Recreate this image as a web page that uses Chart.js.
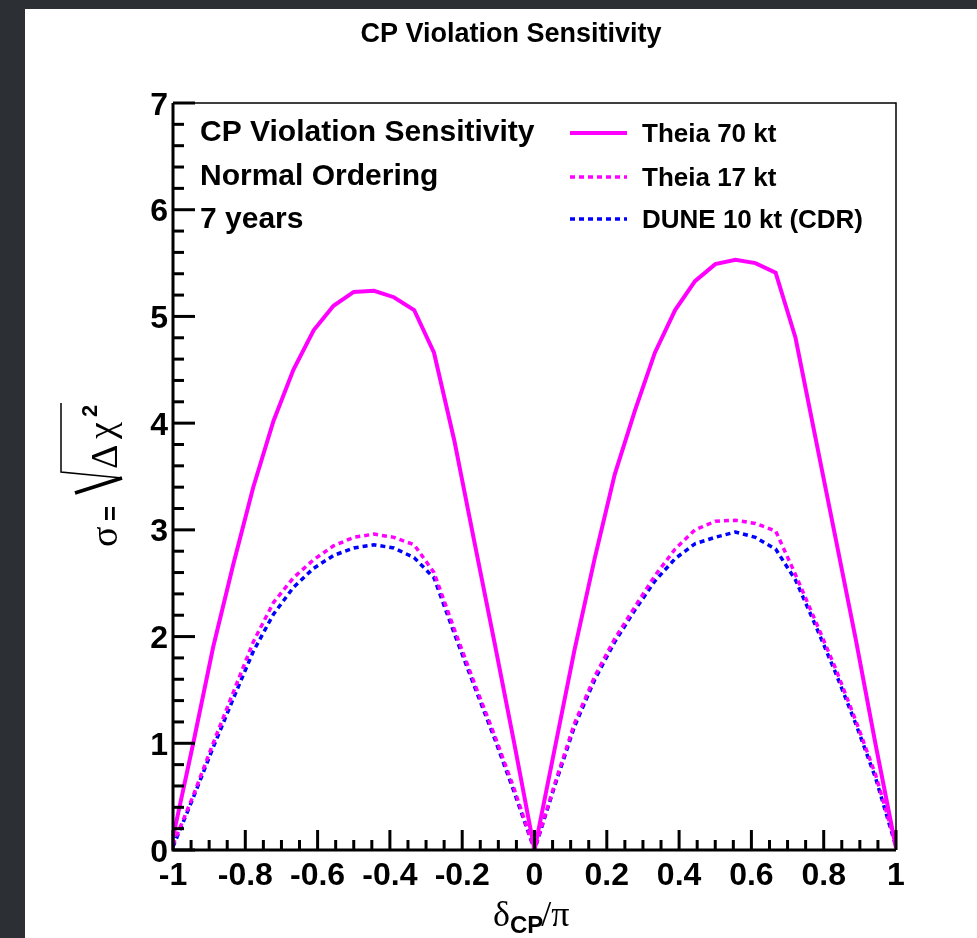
<!DOCTYPE html>
<html>
<head>
<meta charset="utf-8">
<title>CP Violation Sensitivity</title>
<script src="https://cdn.jsdelivr.net/npm/chart.js@4.4.1/dist/chart.umd.min.js"></script>
<style>
  html, body { margin: 0; padding: 0; background: #2c2f33; }
  #wrap { width: 977px; height: 938px; }
</style>
</head>
<body>
<div id="wrap"><canvas id="cpv" width="977" height="938"></canvas></div>
<script>
/* CP violation sensitivity vs delta_CP / pi */

// x values (delta_CP / pi), one point every 10 degrees
const dcpOverPi = [
  -1.000, -0.944, -0.889, -0.833, -0.778, -0.722, -0.667, -0.611, -0.556, -0.500,
  -0.444, -0.389, -0.333, -0.278, -0.222, -0.167, -0.111, -0.056,  0.000,
   0.056,  0.111,  0.167,  0.222,  0.278,  0.333,  0.389,  0.444,  0.500,
   0.556,  0.611,  0.667,  0.722,  0.778,  0.833,  0.889,  0.944,  1.000
];

const theia70 = [
  0.12, 1.00, 1.90, 2.68, 3.40, 4.02, 4.50, 4.87, 5.10, 5.23,
  5.24, 5.18, 5.06, 4.66, 3.84, 2.90, 1.95, 1.00, 0.00,
  0.95, 1.88, 2.74, 3.52, 4.12, 4.66, 5.06, 5.33, 5.49,
  5.53, 5.50, 5.41, 4.80, 3.85, 2.92, 1.97, 0.98, 0.02
];

const theia17 = [
  0.05, 0.51, 1.00, 1.48, 1.95, 2.32, 2.55, 2.72, 2.85, 2.93,
  2.96, 2.93, 2.86, 2.60, 2.07, 1.57, 1.08, 0.57, 0.00,
  0.62, 1.19, 1.63, 1.98, 2.28, 2.57, 2.82, 3.00, 3.08,
  3.09, 3.06, 2.99, 2.58, 2.14, 1.70, 1.21, 0.70, 0.05
];

const dune10 = [
  0.03, 0.49, 0.96, 1.42, 1.86, 2.21, 2.46, 2.64, 2.76, 2.83,
  2.86, 2.83, 2.74, 2.55, 2.03, 1.54, 1.05, 0.54, 0.00,
  0.60, 1.16, 1.60, 1.95, 2.25, 2.52, 2.73, 2.87, 2.93,
  2.98, 2.93, 2.82, 2.53, 2.10, 1.66, 1.18, 0.67, 0.03
];

const xTickLabels = ['-1', '-0.8', '-0.6', '-0.4', '-0.2', '0', '0.2', '0.4', '0.6', '0.8', '1'];
const yTickLabels = ['0', '1', '2', '3', '4', '5', '6', '7'];
const seriesNames = ['Theia 70 kt', 'Theia 17 kt', 'DUNE 10 kt (CDR)'];
const infoLines   = ['CP Violation Sensitivity', 'Normal Ordering', '7 years'];
const plotTitle   = 'CP Violation Sensitivity';

const MAGENTA = '#ff00ff';
const BLUE    = '#0000ff';
const INK     = '#000000';

const sansB = px => `bold ${px}px "Liberation Sans", Arial, Helvetica, sans-serif`;
const serif = px => `${px}px "Liberation Serif", "Times New Roman", serif`;

function pts(ys) {
  return dcpOverPi.map((x, i) => ({ x, y: ys[i] }));
}

// ROOT-like frame: inward ticks, bold labels, in-pad text and legend
const rootStyle = {
  id: 'rootStyle',
  beforeDraw(chart) {
    const { ctx, width, height } = chart;
    ctx.save();
    ctx.fillStyle = '#2c2f33';
    ctx.fillRect(0, 0, width, height);
    ctx.fillStyle = '#ffffff';
    ctx.fillRect(25, 9, width - 25, height - 9);
    ctx.restore();
  },
  afterDraw(chart) {
    const { ctx, chartArea: a, scales: { x, y } } = chart;
    ctx.save();
    ctx.strokeStyle = INK;
    ctx.fillStyle = INK;

    // thin frame on top and right
    ctx.lineWidth = 1.5;
    ctx.beginPath();
    ctx.moveTo(a.left, a.top);
    ctx.lineTo(a.right, a.top);
    ctx.lineTo(a.right, a.bottom);
    ctx.stroke();

    // thick axes
    ctx.lineWidth = 3;
    ctx.beginPath();
    ctx.moveTo(a.left, a.top);
    ctx.lineTo(a.left, a.bottom);
    ctx.lineTo(a.right, a.bottom);
    ctx.stroke();

    // y ticks: major every 1, minor every 0.2
    ctx.lineWidth = 3;
    for (let i = 0; i <= 35; i++) {
      const py = y.getPixelForValue(i * 0.2);
      const len = i % 5 === 0 ? 22 : 11;
      ctx.beginPath();
      ctx.moveTo(a.left, py);
      ctx.lineTo(a.left + len, py);
      ctx.stroke();
    }
    // x ticks: major every 0.2, minor every 0.05
    for (let i = 0; i <= 40; i++) {
      const px = x.getPixelForValue(-1 + i * 0.05);
      const len = i % 4 === 0 ? 20 : 10;
      ctx.beginPath();
      ctx.moveTo(px, a.bottom);
      ctx.lineTo(px, a.bottom - len);
      ctx.stroke();
    }

    // tick labels
    ctx.font = sansB(32);
    ctx.textAlign = 'right';
    ctx.textBaseline = 'alphabetic';
    yTickLabels.forEach(lbl => {
      const py = y.getPixelForValue(parseFloat(lbl));
      ctx.fillText(lbl, a.left - 5, py + 11.5);
    });
    ctx.textAlign = 'center';
    xTickLabels.forEach(lbl => {
      const px = x.getPixelForValue(parseFloat(lbl));
      ctx.fillText(lbl, px, a.bottom + 35);
    });

    // x axis title: delta_CP / pi
    ctx.textAlign = 'left';
    let cx = 493;
    ctx.font = serif(36);
    ctx.fillText('δ', cx, 926);
    cx += ctx.measureText('δ').width;
    ctx.font = sansB(24);
    ctx.fillText('CP', cx, 933);
    cx += ctx.measureText('CP').width - 2;
    ctx.font = serif(36);
    ctx.fillText('/π', cx, 926);

    // y axis title: sigma = sqrt(Delta chi^2), rotated
    ctx.save();
    ctx.translate(117, 477);
    ctx.rotate(-Math.PI / 2);
    ctx.font = serif(38);
    ctx.fillText('σ', -70, 0);
    ctx.font = sansB(26);
    ctx.fillText('=', -44, 2);
    ctx.lineWidth = 3.5;
    ctx.beginPath();
    ctx.moveTo(-16, -42);
    ctx.lineTo(-1, 5);
    ctx.stroke();
    ctx.lineWidth = 1.5;
    ctx.beginPath();
    ctx.moveTo(-1, 5);
    ctx.lineTo(5, -56);
    ctx.lineTo(74, -56);
    ctx.stroke();
    ctx.font = serif(38);
    ctx.fillText('Δ', 8, 0);
    ctx.fillText('χ', 38, -3);
    ctx.font = sansB(22);
    ctx.fillText('2', 60, -20);
    ctx.restore();

    // pad title
    ctx.textAlign = 'center';
    ctx.font = sansB(27);
    ctx.fillText(plotTitle, 511, 42);

    // info text inside the frame
    ctx.textAlign = 'left';
    ctx.font = sansB(30);
    infoLines.forEach((t, i) => ctx.fillText(t, 200, 141 + i * 43.5));

    // legend
    const rows = [133, 177, 219];
    chart.data.datasets.forEach((ds, i) => {
      ctx.strokeStyle = ds.borderColor;
      ctx.lineWidth = ds.borderWidth;
      ctx.setLineDash(ds.borderDash || []);
      ctx.beginPath();
      ctx.moveTo(570, rows[i]);
      ctx.lineTo(627, rows[i]);
      ctx.stroke();
      ctx.setLineDash([]);
      ctx.font = sansB(26);
      ctx.fillStyle = INK;
      ctx.fillText(ds.label, 642, rows[i] + 9);
    });

    ctx.restore();
  }
};

new Chart(document.getElementById('cpv'), {
  type: 'line',
  data: {
    datasets: [
      {
        label: seriesNames[0],
        data: pts(theia70),
        borderColor: MAGENTA,
        borderWidth: 4,
        pointRadius: 0, tension: 0, fill: false
      },
      {
        label: seriesNames[1],
        data: pts(theia17),
        borderColor: MAGENTA,
        borderWidth: 3.5,
        borderDash: [5, 4],
        pointRadius: 0, tension: 0, fill: false
      },
      {
        label: seriesNames[2],
        data: pts(dune10),
        borderColor: BLUE,
        borderWidth: 3.5,
        borderDash: [5, 4],
        pointRadius: 0, tension: 0, fill: false
      }
    ]
  },
  options: {
    responsive: false,
    animation: false,
    layout: { padding: { left: 173, right: 81, top: 103, bottom: 88 } },
    plugins: {
      legend: { display: false },
      title: { display: false },
      tooltip: { enabled: false }
    },
    scales: {
      x: { type: 'linear', min: -1, max: 1, display: false },
      y: { type: 'linear', min: 0, max: 7, display: false }
    }
  },
  plugins: [rootStyle]
});
</script>
</body>
</html>
